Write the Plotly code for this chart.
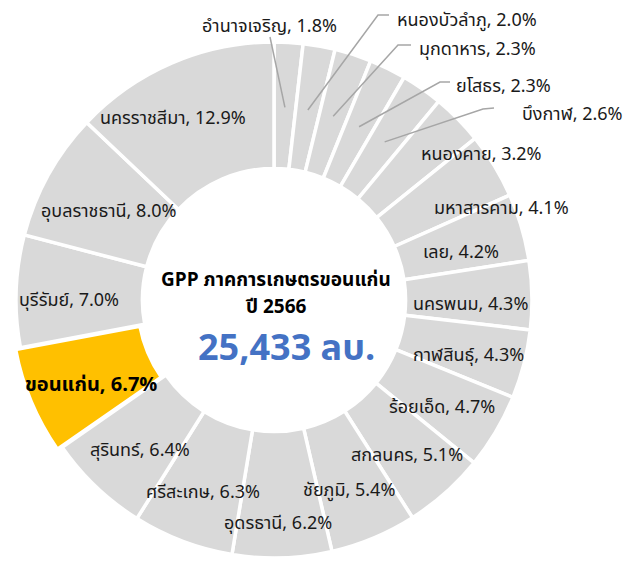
import math
import plotly.graph_objects as go

# ---- data ----
provinces = ["อำนาจเจริญ", "หนองบัวลำภู", "มุกดาหาร", "ยโสธร", "บึงกาฬ", "หนองคาย",
             "มหาสารคาม", "เลย", "นครพนม", "กาฬสินธุ์", "ร้อยเอ็ด", "สกลนคร", "ชัยภูมิ",
             "อุดรธานี", "ศรีสะเกษ", "สุรินทร์", "ขอนแก่น", "บุรีรัมย์", "อุบลราชธานี", "นครราชสีมา"]
shares = [1.8, 2.0, 2.3, 2.3, 2.6, 3.2, 4.1, 4.2, 4.3, 4.3, 4.7, 5.1, 5.4,
          6.2, 6.3, 6.4, 6.7, 7.0, 8.0, 12.9]
highlight = "ขอนแก่น"
center_title = "GPP ภาคการเกษตรขอนแก่น"
center_year = "ปี 2566"
center_value = "25,433 ลบ."

# ---- layout constants ----
W, H = 641, 563
OFF = 8  # page body margin offset
FONT = "Noto Sans Thai, Kanit, Prompt, Noto Sans, Arial, sans-serif"
GRAY = "#d9d9d9"
GOLD = "#FFC000"
LEADER = "#a6a6a6"
TXT = "#1a1a1a"
PULL = 0.02
HOLE = 0.51
R = 258.0
cx_page, cy_page = 274.0, 300.0
cx_fig, cy_fig = cx_page - OFF, cy_page - OFF
half = R * (1 + PULL)
dom_x = [(cx_fig - half) / W, (cx_fig + half) / W]
dom_y = [1 - (cy_fig + half) / H, 1 - (cy_fig - half) / H]
r_in = R * HOLE
label_r = 0.5 * (R + r_in) + 6
LABEL_DY = 5

colors = [GOLD if p == highlight else GRAY for p in provinces]
pulls = [PULL if p == highlight else 0 for p in provinces]

fig = go.Figure(go.Pie(
    labels=provinces, values=shares, sort=False, direction="clockwise", rotation=0,
    hole=HOLE, pull=pulls, textinfo="none", hoverinfo="skip",
    marker=dict(colors=colors, line=dict(color="white", width=3.5)),
    domain=dict(x=dom_x, y=dom_y), showlegend=False,
))

def px2paper(x, y):
    # page pixel -> paper coordinates
    return (x - OFF) / W, 1 - (y - OFF) / H

total = sum(shares)
# outside labels for the small slices: (elbow point, line end, text anchor x, text y, xanchor)
outside = {
    "อำนาจเจริญ": (None, (270, 37), 269, 27, "center"),
    "หนองบัวลำภู": ((378, 15), (389, 15), 395, 20, "left"),
    "มุกดาหาร": ((398, 45), (411, 45), 417, 50, "left"),
    "ยโสธร": ((440, 82), (450, 82), 454, 87, "left"),
    "บึงกาฬ": ((483, 109), (494, 108), 520, 115, "left"),
}
nudges = {"หนองคาย": (64, -10), "มหาสารคาม": (56, 8), "เลย": (-6, 4),
          "นครพนม": (-4, 3), "ร้อยเอ็ด": (-5, 0), "สกลนคร": (0, 0),
          "ชัยภูมิ": (-3, 0), "อุดรธานี": (-2, 18), "สุรินทร์": (5, 0),
          "ขอนแก่น": (7, 0), "บุรีรัมย์": (-4, 2), "อุบลราชธานี": (11, 4),
          "นครราชสีมา": (-22, -2)}

annotations = []
shapes = []
cum = 0.0
for p, v in zip(provinces, shares):
    mid = (cum + v / 2) / total * 2 * math.pi
    cum += v
    text = f"{p}, {v:.1f}%"
    if p in outside:
        elbow, end, tx, ty, xa = outside[p]
        sx = cx_page + 193 * math.sin(mid)
        sy = cy_page - 193 * math.cos(mid)
        pts = [(sx, sy)] + ([elbow] if elbow else []) + [end]
        path = "M " + " L ".join(f"{px2paper(a, b)[0]},{px2paper(a, b)[1]}" for a, b in pts)
        shapes.append(dict(type="path", xref="paper", yref="paper", path=path,
                           line=dict(color=LEADER, width=1.5)))
        x, y = px2paper(tx, ty)
        annotations.append(dict(x=x, y=y, xref="paper", yref="paper", text=text,
                                showarrow=False, xanchor=xa, yanchor="middle",
                                font=dict(family=FONT, size=18, color=TXT)))
    else:
        rr = label_r + (R * PULL if p == highlight else 0)
        lx = cx_page + rr * math.sin(mid)
        ly = cy_page - rr * math.cos(mid)
        dx, dy = nudges.get(p, (0, 0))
        x, y = px2paper(lx + dx, ly + dy + LABEL_DY)
        bold = p == highlight
        annotations.append(dict(x=x, y=y, xref="paper", yref="paper",
                                text=f"<b>{text}</b>" if bold else text,
                                showarrow=False, xanchor="center", yanchor="middle",
                                font=dict(family=FONT, size=20 if bold else 18,
                                          color="#000000" if bold else TXT)))

for txt, ty, fs, col in [(center_title, 280, 19, "#000000"),
                         (center_year, 307, 19, "#000000"),
                         (center_value, 349, 36, "#4472C4")]:
    x, y = px2paper(276 if fs < 30 else 286, ty)
    annotations.append(dict(x=x, y=y, xref="paper", yref="paper", text=f"<b>{txt}</b>",
                            showarrow=False, xanchor="center", yanchor="middle",
                            font=dict(family=FONT, size=fs, color=col)))

fig.update_layout(width=W, height=H, margin=dict(l=0, r=0, t=0, b=0),
                  paper_bgcolor="white", plot_bgcolor="white",
                  annotations=annotations, shapes=shapes)
fig.write_html("out.html")
